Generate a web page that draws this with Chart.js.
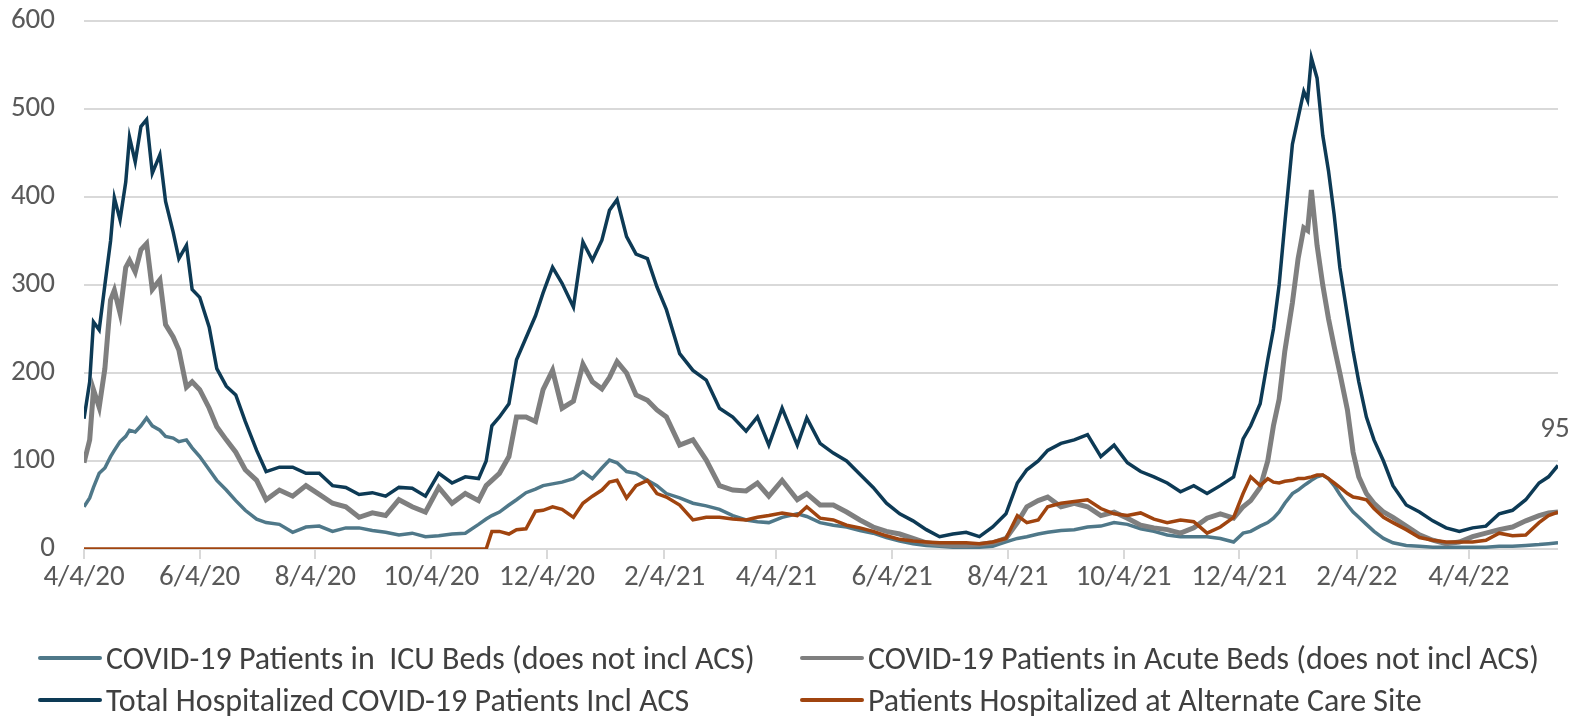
<!DOCTYPE html>
<html>
<head>
<meta charset="utf-8">
<script src="https://cdn.jsdelivr.net/npm/chart.js@4.4.1/dist/chart.umd.min.js"></script>
<style>
  html, body { margin: 0; padding: 0; background: #fff; }
  #wrap { position: relative; width: 1575px; height: 718px; overflow: hidden; }
  #chart { position: absolute; left: 0; top: 0; }
  #legend { position: absolute; left: 0; top: 0; width: 1575px; height: 718px;
            font-family: Carlito, Lato, sans-serif; font-size: 32px; color: #404040; }
  .item { position: absolute; height: 36px; display: flex; align-items: center; white-space: pre; }
  .swatch { width: 64px; height: 4px; margin-right: 4px; border-radius: 2px; }
</style>
</head>
<body>
<div id="wrap">
  <canvas id="chart" width="1575" height="718"></canvas>
  <div id="legend"></div>
</div>
<script>
/* ===== DATA ===== */

const startDate = "4/4/20";
const tickLabels = ["4/4/20", "6/4/20", "8/4/20", "10/4/20", "12/4/20", "2/4/21", "4/4/21",
  "6/4/21", "8/4/21", "10/4/21", "12/4/21", "2/4/22", "4/4/22"];

const days = [
  0, 3, 5, 8, 11, 14, 16, 19, 22, 24,
  27, 30, 33, 36, 40, 43, 47, 50, 54, 57,
  61, 66, 70, 75, 80, 85, 91, 96, 103, 110,
  117, 124, 131, 138, 145, 152, 159, 166, 173, 180,
  187, 194, 201, 208, 212, 215, 219, 224, 228, 233,
  238, 242, 247, 252, 258, 263, 268, 273, 277, 281,
  286, 291, 297, 302, 307, 314, 321, 328, 335, 342,
  349, 355, 361, 368, 376, 381, 388, 395, 402, 409,
  416, 423, 430, 437, 444, 451, 458, 465, 472, 479,
  486, 492, 497, 503, 508, 515, 522, 529, 536, 543,
  550, 557, 564, 571, 578, 585, 592, 599, 606, 611,
  615, 620, 624, 627, 630, 633, 637, 640, 643, 645,
  647, 650, 653, 656, 659, 662, 666, 669, 672, 676,
  680, 685, 690, 697, 704, 711, 718, 725, 732, 739,
  746, 753, 760, 767, 772, 777
];

const icuPatients = [
  48, 58, 70, 86, 92, 105, 112, 122, 128, 135,
  133, 140, 149, 140, 135, 128, 126, 122, 124, 115,
  105, 90, 78, 67, 55, 44, 34, 30, 28, 19,
  25, 26, 20, 24, 24, 21, 19, 16, 18, 14,
  15, 17, 18, 28, 34, 38, 42, 50, 56, 64,
  68, 72, 74, 76, 80, 88, 80, 92, 101, 98,
  88, 86, 78, 72, 63, 58, 52, 49, 45, 38,
  33, 31, 30, 36, 40, 37, 30, 27, 25, 21,
  18, 13, 9, 6, 4, 3, 2, 2, 2, 3,
  8, 12, 14, 17, 19, 21, 22, 25, 26, 30,
  28, 23, 20, 16, 14, 14, 14, 12, 8, 18,
  20, 26, 30, 35, 42, 52, 63, 67, 72, 75,
  78, 82, 84, 80, 72, 62, 50, 42, 36, 28,
  20, 12, 7, 4, 3, 2, 2, 2, 2, 2,
  3, 3, 4, 5, 6, 7
];

const acutePatients = [
  98, 124, 181, 161, 205, 283, 294, 268, 320, 328,
  315, 340, 347, 295, 306, 255, 241, 226, 184, 190,
  181, 160, 139, 124, 110, 90, 78, 56, 67, 60,
  72, 62, 52, 48, 36, 41, 38, 56, 48, 42,
  70, 52, 63, 55, 72, 78, 86, 105, 150, 150,
  145, 181, 203, 160, 168, 210, 190, 182, 195, 213,
  200, 175, 169, 158, 150, 118, 124, 101, 72, 67,
  66, 75, 60, 78, 56, 63, 50, 50, 42, 33,
  25, 20, 17, 12, 7, 5, 4, 4, 5, 7,
  12, 30, 48, 55, 59, 48, 52, 48, 38, 42,
  35, 27, 24, 22, 18, 24, 35, 40, 35, 48,
  55, 70, 100, 140, 170, 225, 280, 330, 365, 362,
  408, 345, 300, 262, 230, 200, 158, 110, 82, 63,
  52, 42, 36, 26, 16, 10, 6, 8, 14, 18,
  22, 25, 32, 38, 41, 42
];

const totalPatients = [
  148, 190, 258, 249, 300, 350, 399, 374, 417, 468,
  440, 480, 488, 427, 448, 395, 360, 330, 345, 295,
  286, 252, 205, 185, 175, 145, 112, 88, 93, 93,
  86, 86, 72, 70, 62, 64, 60, 70, 69, 60,
  86, 75, 82, 80, 100, 140, 150, 165, 215, 240,
  265, 291, 320, 302, 275, 349, 328, 351, 385, 397,
  355, 335, 330, 298, 272, 222, 203, 192, 160, 150,
  134, 150, 118, 160, 118, 149, 120, 109, 100, 85,
  70, 52, 40, 32, 22, 14, 17, 19, 14, 25,
  40, 75, 90, 100, 112, 120, 124, 130, 105, 118,
  98, 88, 82, 75, 65, 72, 63, 72, 82, 125,
  140, 165, 215, 250, 300, 370, 460, 490, 520, 510,
  558, 535, 470, 430, 380, 320, 265, 225, 190, 150,
  124, 100, 72, 50, 42, 32, 24, 20, 24, 26,
  40, 44, 56, 75, 82, 95
];

const acsPatients = [
  0, 0, 0, 0, 0, 0, 0, 0, 0, 0,
  0, 0, 0, 0, 0, 0, 0, 0, 0, 0,
  0, 0, 0, 0, 0, 0, 0, 0, 0, 0,
  0, 0, 0, 0, 0, 0, 0, 0, 0, 0,
  0, 0, 0, 0, 0, 20, 20, 17, 22, 23,
  43, 44, 48, 45, 36, 52, 60, 67, 76, 78,
  58, 72, 78, 63, 59, 50, 33, 36, 36, 34,
  33, 36, 38, 41, 38, 48, 35, 33, 27, 24,
  20, 15, 11, 9, 8, 7, 7, 7, 6, 8,
  12, 38, 30, 33, 48, 52, 54, 56, 46, 40,
  38, 41, 34, 30, 33, 31, 18, 25, 36, 63,
  82, 72, 80, 76, 75, 77, 78, 80, 80, 81,
  82, 84, 84, 80, 75, 70, 63, 59, 58, 56,
  46, 36, 30, 22, 13, 10, 8, 8, 8, 10,
  18, 15, 16, 30, 38, 42
];

const seriesLabels = [
  "COVID-19 Patients in  ICU Beds (does not incl ACS)",
  "COVID-19 Patients in Acute Beds (does not incl ACS)",
  "Total Hospitalized COVID-19 Patients Incl ACS",
  "Patients Hospitalized at Alternate Care Site"
];
const seriesColors = ["#4f7889", "#7f7f7f", "#0d3a55", "#a0440f"];

/* ===== HELPERS ===== */

const FONT = "Carlito, Lato, sans-serif";

function toDate(label) {
  const [m, d, y] = label.split("/").map(Number);
  return Date.UTC(2000 + y, m - 1, d);
}

function dayOffset(label) {
  return Math.round((toDate(label) - toDate(startDate)) / 86400000);
}

const tickDays = tickLabels.map(dayOffset);

function points(values) {
  return days.map((d, i) => ({ x: d, y: values[i] }));
}

/* ===== CHART ===== */

const lastValueLabel = {
  id: "lastValueLabel",
  afterDatasetsDraw(chart) {
    const meta = chart.getDatasetMeta(2);
    const pt = meta.data[meta.data.length - 1];
    const ctx = chart.ctx;
    ctx.save();
    ctx.font = "29px " + FONT;
    ctx.fillStyle = "#595959";
    ctx.textAlign = "center";
    ctx.textBaseline = "middle";
    ctx.fillText(String(totalPatients[totalPatients.length - 1]), pt.x - 3, pt.y - 36);
    ctx.restore();
  }
};

Chart.defaults.font.family = FONT;
Chart.defaults.font.size = 29;
Chart.defaults.color = "#595959";

const widths = [3.5, 5, 3.5, 3.5];
const order = [3, 2, 1, 0];

new Chart(document.getElementById("chart"), {
  type: "line",
  data: {
    datasets: [icuPatients, acutePatients, totalPatients, acsPatients].map((vals, i) => ({
      label: seriesLabels[i],
      data: points(vals),
      borderColor: seriesColors[i],
      backgroundColor: seriesColors[i],
      borderWidth: widths[i],
      pointRadius: 0,
      tension: 0,
      order: order[i]
    }))
  },
  options: {
    responsive: false,
    animation: false,
    layout: { padding: { left: 0, right: 17, top: 21, bottom: 109 } },
    plugins: { legend: { display: false }, tooltip: { enabled: false } },
    scales: {
      x: {
        type: "linear",
        min: 0,
        max: days[days.length - 1],
        afterBuildTicks: axis => { axis.ticks = tickDays.map(v => ({ value: v })); },
        afterFit: axis => { axis.height = 60; axis.paddingLeft = 0; axis.paddingRight = 0; },
        grid: { drawOnChartArea: false, drawTicks: true, tickLength: 10, color: "#d9d9d9", lineWidth: 2 },
        border: { display: false },
        ticks: {
          autoSkip: false,
          maxRotation: 0,
          padding: 1,
          callback: v => tickLabels[tickDays.indexOf(v)] || ""
        }
      },
      y: {
        min: 0,
        max: 600,
        afterFit: axis => { axis.width = 84; axis.paddingTop = 0; axis.paddingBottom = 0; },
        grid: { color: "#d9d9d9", lineWidth: 2, drawTicks: false },
        border: { display: false },
        ticks: { stepSize: 100, padding: 29 }
      }
    }
  },
  plugins: [lastValueLabel]
});

/* ===== LEGEND ===== */

const legend = document.getElementById("legend");
const colX = [38, 800];
const rowY = [658, 700];
seriesLabels.forEach((text, i) => {
  const item = document.createElement("div");
  item.className = "item";
  item.style.left = colX[i % 2] + "px";
  item.style.top = (rowY[Math.floor(i / 2)] - 18) + "px";
  item.innerHTML = `<span class="swatch" style="background:${seriesColors[i]}"></span><span></span>`;
  item.lastChild.textContent = text;
  legend.appendChild(item);
});
</script>
</body>
</html>
